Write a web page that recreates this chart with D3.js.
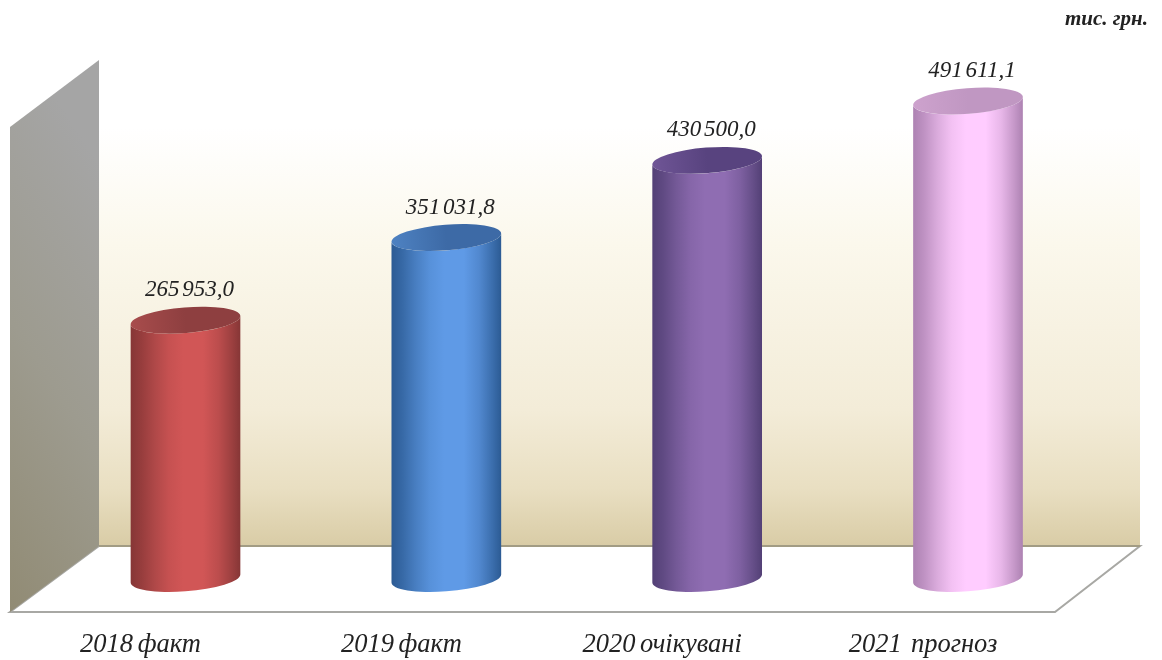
<!DOCTYPE html>
<html>
<head>
<meta charset="utf-8">
<script src="https://cdn.jsdelivr.net/npm/d3@7/dist/d3.min.js"></script>
<style>
html,body{margin:0;padding:0;background:#fff}
svg{display:block;filter:blur(0.6px)}
text{font-family:"Liberation Serif",serif;font-style:italic;fill:#222;white-space:pre}
</style>
</head>
<body>
<script>
const categories = ["2018 факт", "2019 факт", "2020 очікувані", "2021  прогноз"];
const values = [265953.0, 351031.8, 430500.0, 491611.1];
const valueLabels = ["265 953,0", "351 031,8", "430 500,0", "491 611,1"];
const unitLabel = "тис. грн.";
const edgeColors = ["#863636", "#2c5b94", "#534076", "#ad82b2"];
const midColors = ["#d15656", "#5f9ae6", "#8f6db2", "#ffccff"];
const topDark = ["#8e3f40", "#3d6aa6", "#58437f", "#c097c2"];
const topLight = ["#a84c4c", "#4e82c2", "#6f5596", "#cda2cd"];

const W = 1162, H = 660;
const x = d3.scalePoint().domain(categories).range([185.5, 968]);
const y = d3.scaleLinear().domain([0, d3.max(values)]).range([578.5, 101]);

const svg = d3.select("body").append("svg").attr("width", W).attr("height", H);
const defs = svg.append("defs");

const wallGrad = defs.append("linearGradient").attr("id", "wall").attr("x1", 0).attr("x2", 0).attr("y1", 0).attr("y2", 1);
[[0.0, "#ffffff"], [0.14, "#ffffff"], [0.38, "#fbf8ec"], [0.72, "#f3ecd8"], [0.88, "#e9dfc2"], [1, "#d9cca6"]]
  .forEach(s => wallGrad.append("stop").attr("offset", s[0]).attr("stop-color", s[1]));

const sideGrad = defs.append("linearGradient").attr("id", "side").attr("x1", 0).attr("x2", 0.25).attr("y1", 1).attr("y2", 0);
[[0, "#918b74"], [0.5, "#9d9b8f"], [1, "#a5a5a5"]]
  .forEach(s => sideGrad.append("stop").attr("offset", s[0]).attr("stop-color", s[1]));

categories.forEach((c, i) => {
  const mix = d3.interpolateRgb(edgeColors[i], midColors[i]);
  const g = defs.append("linearGradient").attr("id", "body" + i);
  [[0, 0], [0.1, 0.22], [0.22, 0.55], [0.35, 0.85], [0.48, 1], [0.66, 1], [0.8, 0.72], [0.92, 0.3], [1, 0]]
    .forEach(s => g.append("stop").attr("offset", s[0]).attr("stop-color", mix(s[1])));
  const t = defs.append("linearGradient").attr("id", "top" + i);
  [[0, topLight[i]], [0.5, topDark[i]], [1, topDark[i]]]
    .forEach(s => t.append("stop").attr("offset", s[0]).attr("stop-color", s[1]));
});

// room
const poly = pts => "M" + pts.map(p => p.join(",")).join("L") + "Z";
svg.append("path").attr("d", poly([[99, 60], [1140, 60], [1140, 546], [99, 546]])).attr("fill", "url(#wall)");
svg.append("path").attr("d", poly([[99, 546], [1140, 546], [1055, 612], [10, 612]]))
  .attr("fill", "#fff").attr("stroke", "#a8a8a4").attr("stroke-width", 2);
svg.append("path").attr("d", poly([[10, 127], [99, 60], [99, 546], [10, 612]])).attr("fill", "url(#side)");
svg.append("line").attr("x1", 99).attr("x2", 1140).attr("y1", 546).attr("y2", 546).attr("stroke", "#a29c84").attr("stroke-width", 2);

// cylinders
const rx = 55, ry = 12.8, deg = -4.5, th = deg * Math.PI / 180;
const tx = Math.atan(-(ry / rx) * Math.tan(th));
const ex = rx * Math.cos(tx) * Math.cos(th) - ry * Math.sin(tx) * Math.sin(th);
const ey = rx * Math.cos(tx) * Math.sin(th) + ry * Math.sin(tx) * Math.cos(th);
const arcTo = (px, py, sweep) => `A${rx},${ry} ${deg} 1 ${sweep} ${px},${py}`;

const bars = svg.selectAll("g.bar").data(categories).join("g").attr("class", "bar");
bars.append("path")
  .attr("d", (c, i) => {
    const cx = x(c), t = y(values[i]), b = y(0);
    return `M${cx - ex},${t - ey}L${cx - ex},${b - ey}` + arcTo(cx + ex, b + ey, 0) + `L${cx + ex},${t + ey}` + arcTo(cx - ex, t - ey, 1) + "Z";
  })
  .attr("fill", (c, i) => `url(#body${i})`);
bars.append("ellipse")
  .attr("rx", rx).attr("ry", ry)
  .attr("transform", (c, i) => `translate(${x(c)},${y(values[i])}) rotate(${deg})`)
  .attr("fill", (c, i) => `url(#top${i})`);

// labels
svg.selectAll("text.val").data(valueLabels).join("text").attr("class", "val")
  .attr("x", (d, i) => x(categories[i]) + 4)
  .attr("y", (d, i) => y(values[i]) - 24)
  .attr("text-anchor", "middle").attr("font-size", 23).attr("word-spacing", -3).text(d => d);
svg.selectAll("text.cat").data(categories).join("text").attr("class", "cat")
  .attr("x", c => x(c) - 45).attr("y", 652)
  .attr("text-anchor", "middle").attr("font-size", 26.5).attr("word-spacing", -2).text(c => c);
svg.append("text").attr("x", 1148).attr("y", 25).attr("text-anchor", "end")
  .attr("font-size", 21).attr("font-weight", "bold").text(unitLabel);
</script>
</body>
</html>
